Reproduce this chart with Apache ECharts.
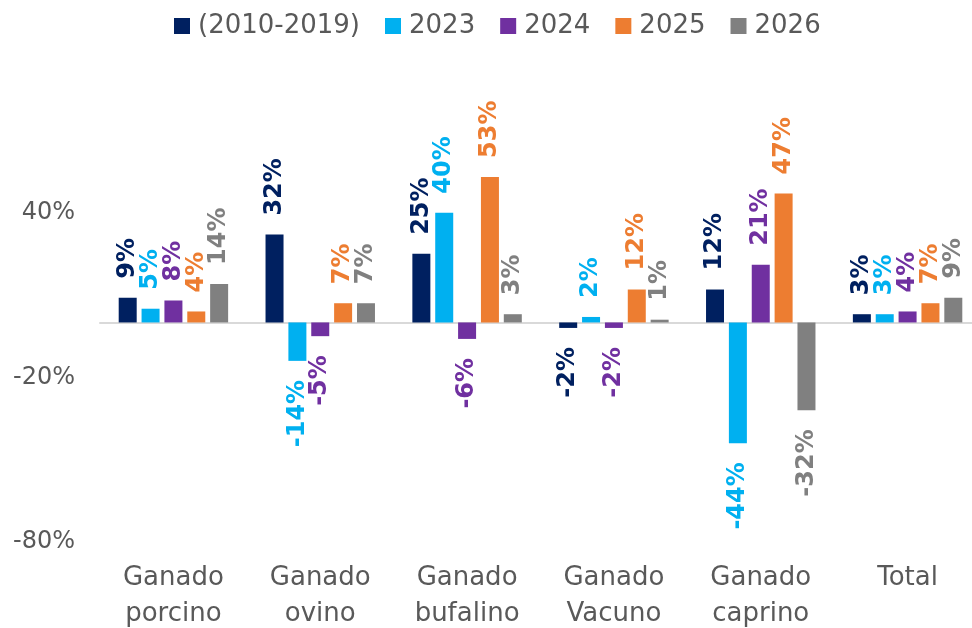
<!DOCTYPE html>
<html>
<head>
<meta charset="utf-8">
<script src="https://cdn.jsdelivr.net/npm/echarts@6/dist/echarts.min.js"></script>
<style>
  html, body { margin: 0; padding: 0; background: #fff; }
  #chart { width: 972px; height: 628px; }
</style>
</head>
<body>
<div id="chart"></div>
<script>
const categories = ['Ganado\nporcino', 'Ganado\novino', 'Ganado\nbufalino', 'Ganado\nVacuno', 'Ganado\ncaprino', 'Total'];
const seriesNames = ['(2010-2019)', '2023', '2024', '2025', '2026'];
const avg2010_2019 = [9, 32, 25, -2, 12, 3];
const y2023 = [5, -14, 40, 2, -44, 3];
const y2024 = [8, -5, -6, -2, 21, 4];
const y2025 = [4, 7, 53, 12, 47, 7];
const y2026 = [14, 7, 3, 1, -32, 9];
const colors = ['#002060', '#00B0F0', '#7030A0', '#ED7D31', '#808080'];

const allValues = [avg2010_2019, y2023, y2024, y2025, y2026];

const chart = echarts.init(document.getElementById('chart'));

// labels sit outside the bar end, reading bottom to top
const series = allValues.map((vals, i) => ({
  name: seriesNames[i],
  type: 'bar',
  barWidth: 18,
  barGap: '27%',
  itemStyle: { color: colors[i] },
  label: {
    show: true,
    rotate: 90,
    distance: 19,
    verticalAlign: 'middle',
    color: colors[i],
    fontFamily: 'DejaVu Sans',
    fontWeight: 'bold',
    fontSize: 24,
    formatter: p => p.value + '%'
  },
  data: vals.map(v => ({
    value: v,
    label: v < 0
      ? { position: 'bottom', align: 'right' }
      : { position: 'top', align: 'left' }
  }))
}));

chart.setOption({
  animation: false,
  color: colors,
  textStyle: { fontFamily: 'DejaVu Sans' },
  legend: {
    top: 8,
    left: 169,
    itemWidth: 16,
    itemHeight: 16,
    itemGap: 25,
    icon: 'rect',
    textStyle: { fontSize: 26, color: '#595959', padding: [0, 0, 0, 3] },
    data: seriesNames
  },
  grid: {
    left: 100,
    right: -9,
    top: 48,
    bottom: 86,
    containLabel: false,
    outerBoundsMode: 'none'
  },
  xAxis: [{
    type: 'category',
    data: categories,
    axisLine: { show: false, onZero: false },
    axisTick: { show: false },
    axisLabel: {
      margin: 18,
      fontSize: 26,
      lineHeight: 36,
      color: '#595959',
      interval: 0
    }
  }, {
    // zero line only
    type: 'category',
    data: categories,
    position: 'bottom',
    axisLine: { show: true, onZero: true, lineStyle: { color: '#D9D9D9', width: 2 } },
    axisTick: { show: false },
    axisLabel: { show: false },
    splitLine: { show: false }
  }],
  yAxis: {
    type: 'value',
    min: -80,
    max: 100,
    interval: 60,
    splitLine: { show: false },
    axisLine: { show: false },
    axisTick: { show: false },
    axisLabel: {
      formatter: '{value}%',
      showMaxLabel: false,
      margin: 25,
      fontSize: 24,
      color: '#595959'
    }
  },
  series: series
});
</script>
</body>
</html>
